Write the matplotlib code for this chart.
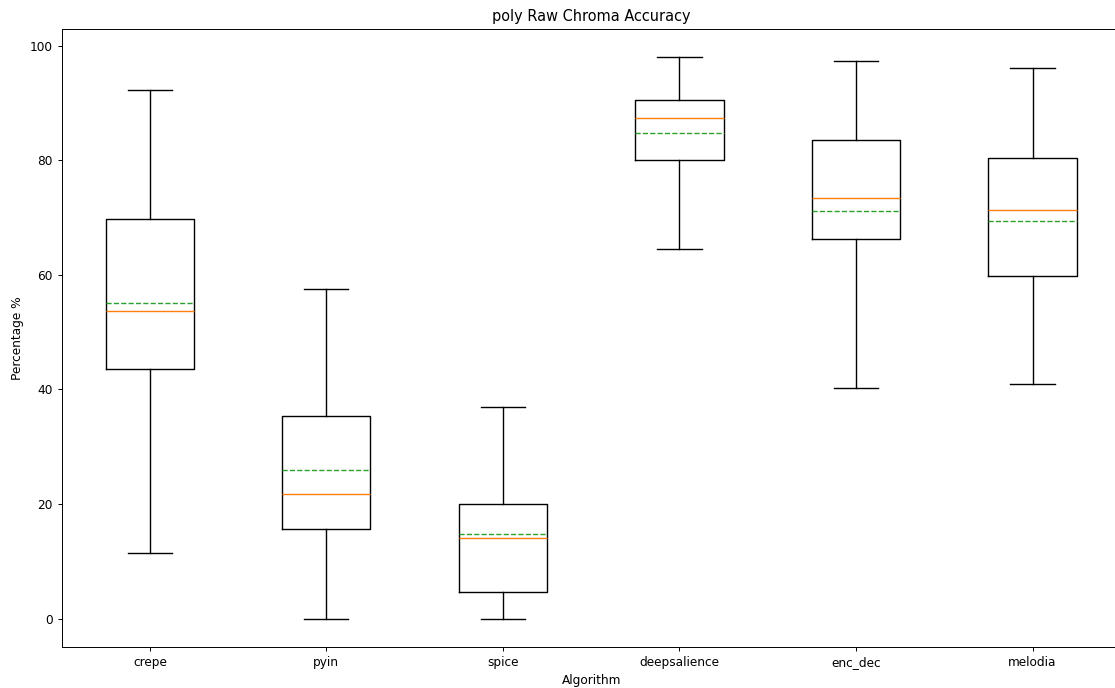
import matplotlib
matplotlib.use('Agg')
import matplotlib.pyplot as plt

# box statistics
algorithms = ['crepe', 'pyin', 'spice', 'deepsalience', 'enc_dec', 'melodia']
whislo = [11.4, 0.0, 0.0, 64.5, 40.3, 40.9]
q1 = [43.6, 15.7, 4.7, 80.0, 66.2, 59.7]
med = [53.6, 21.8, 14.1, 87.3, 73.4, 71.3]
mean = [55.1, 26.0, 14.7, 84.8, 71.2, 69.3]
q3 = [69.7, 35.3, 20.0, 90.5, 83.5, 80.4]
whishi = [92.2, 57.6, 37.0, 98.0, 97.3, 96.0]

stats = []
for i, name in enumerate(algorithms):
    stats.append({'label': name, 'whislo': whislo[i], 'q1': q1[i], 'med': med[i],
                  'mean': mean[i], 'q3': q3[i], 'whishi': whishi[i], 'fliers': []})

plt.rcParams['font.size'] = 8.7
plt.rcParams['lines.linewidth'] = 1.0
plt.rcParams['axes.linewidth'] = 0.7
plt.rcParams['xtick.major.width'] = 0.7
plt.rcParams['ytick.major.width'] = 0.7
plt.rcParams['xtick.major.size'] = 3.0
plt.rcParams['ytick.major.size'] = 3.0

fig = plt.figure(figsize=(11.15, 6.88), dpi=100)
ax = fig.add_axes([0.0552, 0.060, 0.950, 0.898])
ax.bxp(stats, showmeans=True, meanline=True)
ax.set_title('poly Raw Chroma Accuracy')
ax.set_xlabel('Algorithm')
ax.set_ylabel('Percentage %')
fig.savefig('out.png', dpi=100)
